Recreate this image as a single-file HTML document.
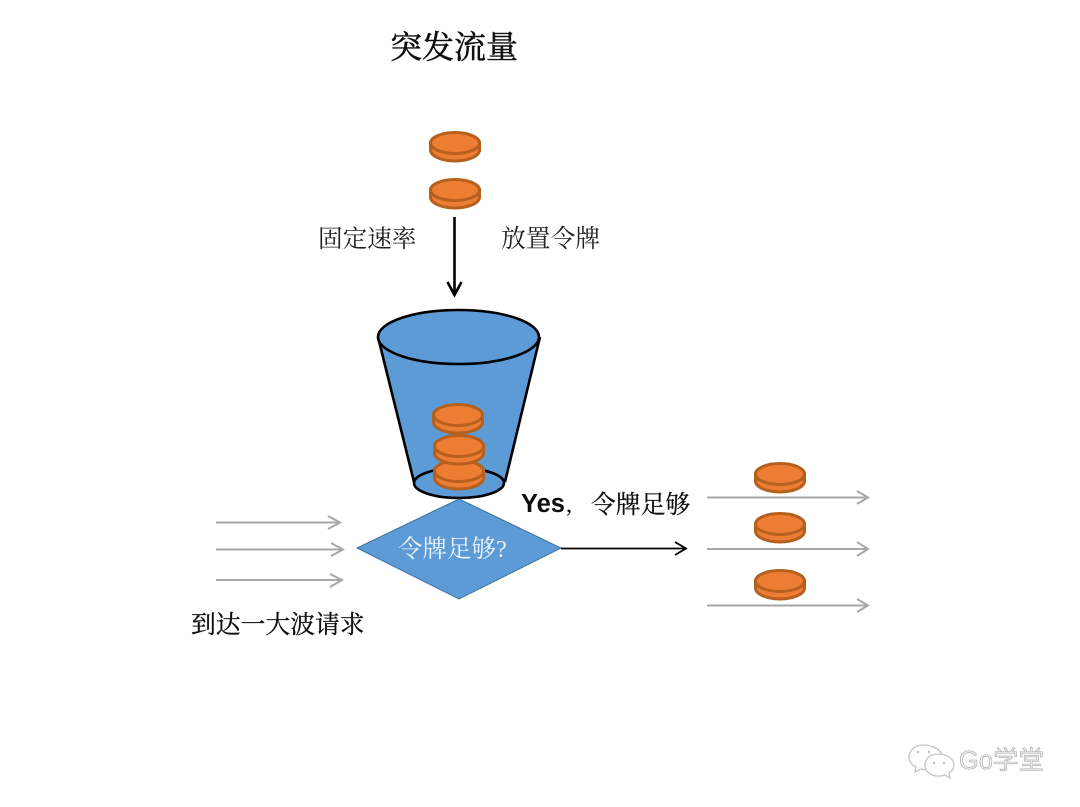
<!DOCTYPE html>
<html>
<head>
<meta charset="utf-8">
<style>
html,body{margin:0;padding:0;background:#fff;width:1080px;height:807px;overflow:hidden}
svg{display:block}
text{font-family:"Liberation Serif","Noto Serif CJK SC",serif}
</style>
</head>
<body>
<svg width="1080" height="807" viewBox="0 0 1080 807" xmlns="http://www.w3.org/2000/svg">
<defs>
<filter id="soft" x="-2%" y="-2%" width="104%" height="104%"><feGaussianBlur stdDeviation="0.35"/></filter>
<g id="coin">
<path d="M-24.500,12 v7 a24.500,11 0 0 0 49,0 v-7 z" fill="#ed7d31" stroke="#b5601f" stroke-width="3"/>
<ellipse cx="0" cy="12" rx="24.500" ry="10.500" fill="#ed7d31" stroke="#b5601f" stroke-width="3"/>
</g>
</defs>
<rect width="1080" height="807" fill="#fff"/>
<g filter="url(#soft)">
<text x="390" y="58" font-size="32" fill="#111" stroke="#111" stroke-width="0.500">突发流量</text>

<use href="#coin" x="455" y="131"/>
<use href="#coin" x="455" y="178"/>

<text x="318" y="247" font-size="24.600" fill="#222">固定速率</text>
<text x="501" y="247" font-size="24.800" fill="#222">放置令牌</text>

<path d="M454.500,217 V294" stroke="#000" stroke-width="2.600" fill="none"/>
<path d="M447.500,282 L454.500,295 L461.500,282" stroke="#000" stroke-width="2.600" fill="none"/>

<path d="M378,337 L414,482 A44,16 0 0 0 505,482 L540,337 Z" fill="#5b9bd5"/>
<ellipse cx="459" cy="483" rx="45" ry="15" fill="#5b9bd5" stroke="#000" stroke-width="2.600"/>
<path d="M378,337 L414,482 M540,337 L505,482" stroke="#000" stroke-width="2.600" fill="none"/>
<ellipse cx="458.500" cy="337" rx="80.500" ry="27" fill="#5b9bd5" stroke="#000" stroke-width="2.600"/>

<use href="#coin" x="459" y="459"/>
<use href="#coin" x="459" y="434"/>
<use href="#coin" x="458" y="403"/>

<polygon points="459,499 561,548 459,599 357,548" fill="#5b9bd5" stroke="#41719c" stroke-width="1"/>
<text x="398" y="557" font-size="24.500" fill="#eef4fb">令牌足够?</text>

<path d="M561,548.500 H685" stroke="#000" stroke-width="1.800" fill="none"/>
<path d="M675,542 L686,548.500 L675,555" stroke="#000" stroke-width="1.800" fill="none"/>

<text x="521" y="512" font-size="25.500" font-weight="700" fill="#111" style='font-family:"Liberation Sans",sans-serif'>Yes</text>
<text x="566" y="512" font-size="24.500" fill="#111">,</text>
<text x="591" y="513" font-size="24.800" fill="#111" stroke="#111" stroke-width="0.250">令牌足够</text>

<g stroke="#a8a8a8" stroke-width="2" fill="none">
<path d="M216,522.500 H340 M328,516 L340,522.500 L328,529"/>
<path d="M216,549.500 H343 M331,543 L343,549.500 L331,556"/>
<path d="M216,580 H342 M330,574 L342,580 L330,587"/>
<path d="M707,497.500 H868 M857,491 L868,497.500 L857,504"/>
<path d="M707,549 H868 M857,542 L868,549 L857,556"/>
<path d="M707,605.500 H868 M857,599 L868,605.500 L857,612"/>
</g>

<use href="#coin" x="780" y="462"/>
<use href="#coin" x="780" y="512"/>
<use href="#coin" x="780" y="569"/>

<text x="191" y="633" font-size="24.800" fill="#111" stroke="#111" stroke-width="0.300">到达一大波请求</text>

<g stroke="#c4c4c4" stroke-width="1.300" fill="#fff">
<path d="M923,745 c-8,0 -14,6 -14,12 c0,5 3,8 7,10 l-1,5 l6,-3 c5,1 8,1 12,0 c6,-2 10,-7 9,-13 c-1,-7 -10,-11 -19,-11 z"/>
<path d="M938,754 c-8,0 -13,5 -13,11 c0,6 5,11 13,11 c3,0 5,0 7,-1 l5,3 l-1,-5 c3,-2 5,-5 5,-8 c0,-6 -7,-11 -16,-11 z"/>
</g>
<g fill="#bbb">
<circle cx="918" cy="752" r="1.200"/><circle cx="929" cy="752" r="1.200"/>
<circle cx="934" cy="763" r="1.200"/><circle cx="944" cy="763" r="1.200"/>
</g>
<text x="959" y="769" font-size="25.500" fill="#ececec" stroke="#a8a8a8" stroke-width="0.600" style='font-family:"Liberation Sans","Noto Sans CJK SC",sans-serif'>Go学堂</text>
</g>
</svg>
</body>
</html>
